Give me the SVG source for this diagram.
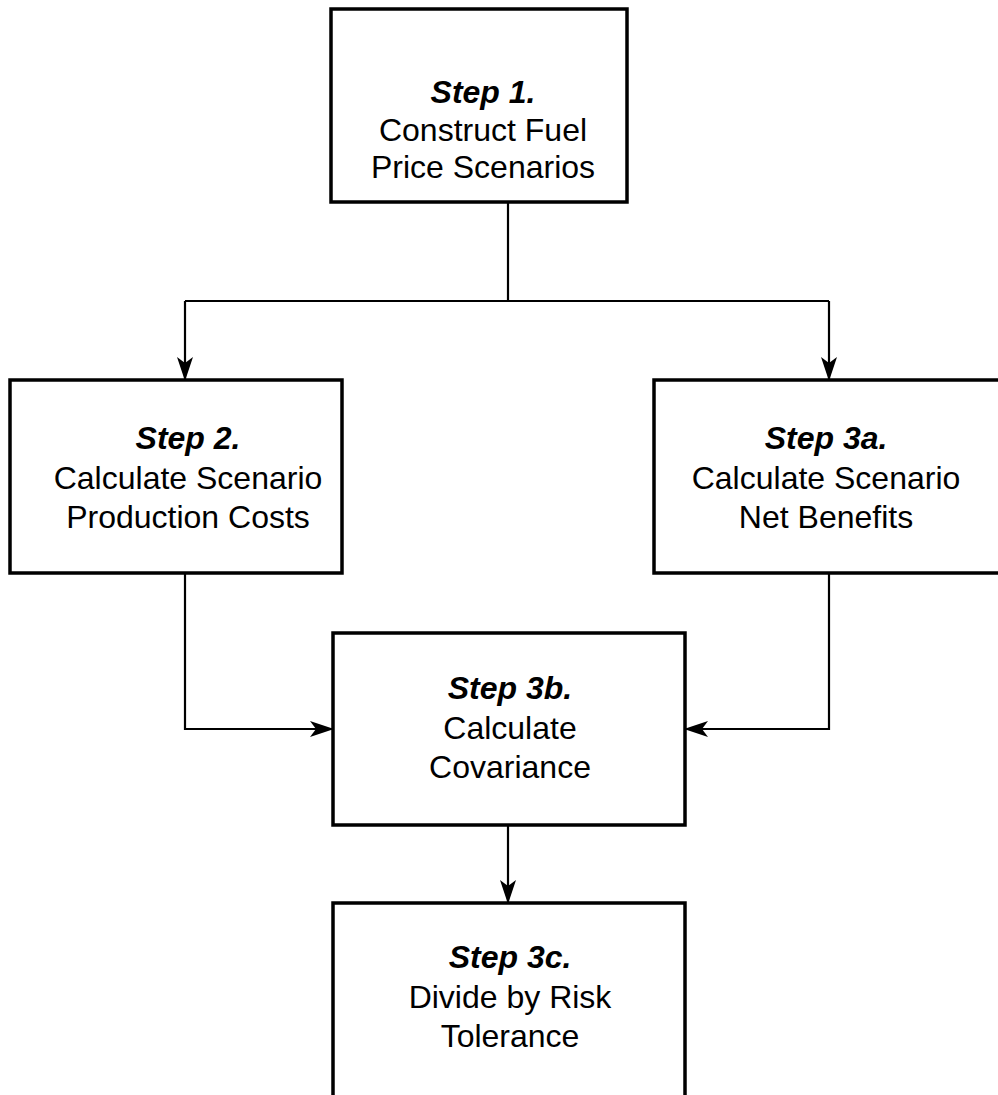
<svg xmlns="http://www.w3.org/2000/svg" width="998" height="1095" viewBox="0 0 998 1095">
<style>
.box{fill:#fff;stroke:#000;stroke-width:3.5}
.t{font-family:"Liberation Sans",Arial,sans-serif;font-size:32px;fill:#000;text-anchor:middle}
.h{font-weight:bold;font-style:italic}
.c{fill:none;stroke:#000;stroke-width:2.2}
</style>
<defs>
<marker id="ah" viewBox="0 0 24 16" refX="23" refY="8" markerWidth="24" markerHeight="16" markerUnits="userSpaceOnUse" orient="auto">
<path d="M0,0 L24,8 L0,16 L6,8 Z" fill="#000"/>
</marker>
</defs>
<rect width="998" height="1095" fill="#fff"/>
<g id="connectors">
<path class="c" d="M508,202 V301"/>
<path class="c" d="M185,301 H829"/>
<path class="c" d="M185,301 V380" marker-end="url(#ah)"/>
<path class="c" d="M829,301 V380" marker-end="url(#ah)"/>
<path class="c" d="M185,573 V729 H333" marker-end="url(#ah)"/>
<path class="c" d="M829,573 V729 H685" marker-end="url(#ah)"/>
<path class="c" d="M508,825 V903" marker-end="url(#ah)"/>
</g>
<g id="step1">
<rect class="box" x="331" y="9" width="296" height="193"/>
<text class="t h" x="483" y="103">Step 1.</text>
<text class="t" x="483" y="141">Construct Fuel</text>
<text class="t" x="483" y="178">Price Scenarios</text>
</g>
<g id="step2">
<rect class="box" x="10" y="380" width="332" height="193"/>
<text class="t h" x="188" y="449">Step 2.</text>
<text class="t" x="188" y="489">Calculate Scenario</text>
<text class="t" x="188" y="528">Production Costs</text>
</g>
<g id="step3a">
<rect class="box" x="654" y="380" width="360" height="193"/>
<text class="t h" x="826" y="449">Step 3a.</text>
<text class="t" x="826" y="489">Calculate Scenario</text>
<text class="t" x="826" y="528">Net Benefits</text>
</g>
<g id="step3b">
<rect class="box" x="333" y="633" width="352" height="192"/>
<text class="t h" x="510" y="699">Step 3b.</text>
<text class="t" x="510" y="739">Calculate</text>
<text class="t" x="510" y="778">Covariance</text>
</g>
<g id="step3c">
<rect class="box" x="333" y="903" width="352" height="220"/>
<text class="t h" x="510" y="968">Step 3c.</text>
<text class="t" x="510" y="1008">Divide by Risk</text>
<text class="t" x="510" y="1047">Tolerance</text>
</g>
</svg>
